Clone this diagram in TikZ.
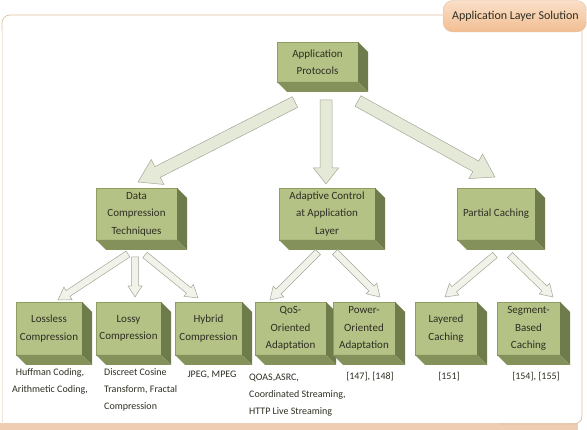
\documentclass[tikz,border=0pt]{standalone}
\usepackage{fontspec}
\setmainfont{Carlito}
\usetikzlibrary{calc}
\definecolor{frontc}{HTML}{B4C286}
\definecolor{frontd}{HTML}{8F9D62}
\definecolor{sidec}{HTML}{6E7B4A}
\definecolor{botc}{HTML}{84915B}
\definecolor{framec}{HTML}{E2C1A2}
\definecolor{bandc}{HTML}{EFCDB2}
\definecolor{tabtop}{HTML}{FADFC7}
\definecolor{tabbot}{HTML}{F2BE93}
\definecolor{arrfill}{HTML}{E5E9D7}
\definecolor{arrdraw}{HTML}{A3A795}
\definecolor{arrfilltwo}{HTML}{F1F3EB}
\definecolor{txt}{HTML}{2E2E22}
\tikzset{
  box/.style={fill=frontc, draw=frontd, line width=0.3pt, inner sep=0pt, outer sep=0pt,
    align=center, text=txt, font=\fontsize{11}{17.5}\selectfont},
  lbl/.style={inner sep=0pt, text=txt, font=\fontsize{10}{16.8}\selectfont},
  bigarrow/.style={fill=arrfill, draw=arrdraw, line width=0.5pt, line join=miter},
  smallarrow/.style={fill=arrfilltwo, draw=arrdraw, line width=0.5pt, line join=miter}
}
% #1 start, #2 tip, #3 shaft half width, #4 head half width, #5 head length, #6 style
\newcommand{\blockarrow}[6]{%
  \coordinate (ba-h) at ($(#2)!#5!(#1)$);
  \draw[#6] ($(#1)!#3!90:(#2)$) -- ($(ba-h)!#3!-90:(#1)$) -- ($(ba-h)!#4!-90:(#1)$) -- (#2)
    -- ($(ba-h)!#4!90:(#1)$) -- ($(ba-h)!#3!90:(#1)$) -- ($(#1)!#3!-90:(#2)$) -- cycle;}
\newcommand{\cubedepth}[1]{%
  \fill[sidec] (#1.north east) -- ($(#1.north east)+(10,10)$) -- ($(#1.south east)+(10,10)$) -- (#1.south east) -- cycle;
  \fill[botc] (#1.south west) -- ($(#1.south west)+(10,10)$) -- ($(#1.south east)+(10,10)$) -- (#1.south east) -- cycle;}
\begin{document}
\begin{tikzpicture}[x=1pt,y=-1pt]
\useasboundingbox (0,0) rectangle (587,430);
% frame
\fill[bandc] (0,423) rectangle (578,430);
\draw[framec!45!white, line width=0.6pt, rounded corners=8] (2,30) -- (2,424);
\draw[framec, line width=0.7pt, rounded corners=8] (445,15) -- (2,15) -- (2,30);
\draw[framec, line width=0.8pt, rounded corners=8] (582,30) -- (582,424) -- (500,424);
% tab
\shade[top color=tabtop, bottom color=tabbot, draw=framec, rounded corners=10] (443,0.5) rectangle (586.5,32);
\node[text=txt, font=\fontsize{12}{14}\selectfont, inner sep=0pt] (tab) at (515.5,16) {Application Layer Solution};
% top box
\node[box, minimum width=81pt, minimum height=40pt] (ap) at (317.5,62) {Application\\Protocols};
\cubedepth{ap}
% second row
\node[box, minimum width=81pt, minimum height=52pt] (dct) at (136.5,214) {Data\\Compression\\Techniques};
\cubedepth{dct}
\node[box, minimum width=96pt, minimum height=52pt] (acl) at (327,214) {Adaptive Control\\at Application\\Layer};
\cubedepth{acl}
\node[box, minimum width=78pt, minimum height=52pt] (pc) at (496,214) {Partial Caching};
\cubedepth{pc}
% bottom row
\node[box, minimum width=66pt, minimum height=53pt] (ll) at (49,328.5) {Lossless\\Compression};
\cubedepth{ll}
\node[box, minimum width=65pt, minimum height=53pt] (ly) at (128.5,328.5) {Lossy\\Compression};
\cubedepth{ly}
\node[box, minimum width=67pt, minimum height=53pt] (hy) at (208.5,328.5) {Hybrid\\Compression};
\cubedepth{hy}
\node[box, minimum width=71pt, minimum height=53pt] (qos) at (290.5,328.5) {QoS-\\Oriented\\Adaptation};
\cubedepth{qos}
\node[box, minimum width=62pt, minimum height=53pt] (pw) at (364,328.5) {Power-\\Oriented\\Adaptation};
\cubedepth{pw}
\node[box, minimum width=62pt, minimum height=53pt] (la) at (446,328.5) {Layered\\Caching};
\cubedepth{la}
\node[box, minimum width=63pt, minimum height=53pt] (sg) at (528.5,328.5) {Segment-\\Based\\Caching};
\cubedepth{sg}
% top-level arrows
\coordinate (a1s) at ($(ap.south)+(-22.5,20)$);
\coordinate (a1e) at ($(dct.north)+(1.5,-6)$);
\coordinate (a2s) at ($(ap.south)+(8.5,18)$);
\coordinate (a2e) at ($(acl.north)+(-1,-4)$);
\coordinate (a3s) at ($(ap.south)+(40.5,19)$);
\coordinate (a3e) at ($(pc.north)+(-1,-11)$);
\blockarrow{a1s}{a1e}{6pt}{14pt}{22pt}{bigarrow}
\blockarrow{a2s}{a2e}{6pt}{12.5pt}{16pt}{bigarrow}
\blockarrow{a3s}{a3e}{6pt}{14pt}{22pt}{bigarrow}
% second-level arrows
\coordinate (b1s) at ($(dct.south)+(-8.5,14)$);
\coordinate (b1e) at ($(ll.north)+(9,-2)$);
\coordinate (b2s) at ($(dct.south)+(-1.5,17)$);
\coordinate (b2e) at ($(ly.north)+(6.5,-5)$);
\coordinate (b3s) at ($(dct.south)+(8.5,15)$);
\coordinate (b3e) at ($(hy.north)+(-10.5,-4)$);
\coordinate (b4s) at ($(acl.south)+(-9,12)$);
\coordinate (b4e) at ($(qos.north)+(-20.5,-2)$);
\coordinate (b5s) at ($(acl.south)+(8,12)$);
\coordinate (b5e) at ($(pw.north)+(16,-5)$);
\coordinate (b6s) at ($(pc.south)+(-1,15)$);
\coordinate (b6e) at ($(la.north)+(-1,-5)$);
\coordinate (b7s) at ($(pc.south)+(14,15)$);
\coordinate (b7e) at ($(sg.north)+(24.5,-5)$);
\blockarrow{b1s}{b1e}{3.5pt}{7.5pt}{12pt}{smallarrow}
\blockarrow{b2s}{b2e}{3.5pt}{7pt}{11pt}{smallarrow}
\blockarrow{b3s}{b3e}{3.5pt}{7.5pt}{12pt}{smallarrow}
\blockarrow{b4s}{b4e}{3.5pt}{7.5pt}{12pt}{smallarrow}
\blockarrow{b5s}{b5e}{3.5pt}{7.5pt}{12pt}{smallarrow}
\blockarrow{b6s}{b6e}{3.5pt}{7.5pt}{12pt}{smallarrow}
\blockarrow{b7s}{b7e}{3.5pt}{7.5pt}{12pt}{smallarrow}
% labels
\node[lbl, align=center] (l1) at (50,381.5) {Huffman Coding,\\Arithmetic Coding,};
\node[lbl, align=left, anchor=west] (l2) at (104,390) {Discreet Cosine\\Transform, Fractal\\Compression};
\node[lbl] (l3) at (212,375) {JPEG, MPEG};
\node[lbl, align=left, anchor=west] (l4) at (249,395) {QOAS,ASRC,\\Coordinated Streaming,\\HTTP Live Streaming};
\node[lbl] (l5) at (370,377) {[147], [148]};
\node[lbl] (l6) at (449,377) {[151]};
\node[lbl] (l7) at (536,377) {[154], [155]};
\end{tikzpicture}
\end{document}
